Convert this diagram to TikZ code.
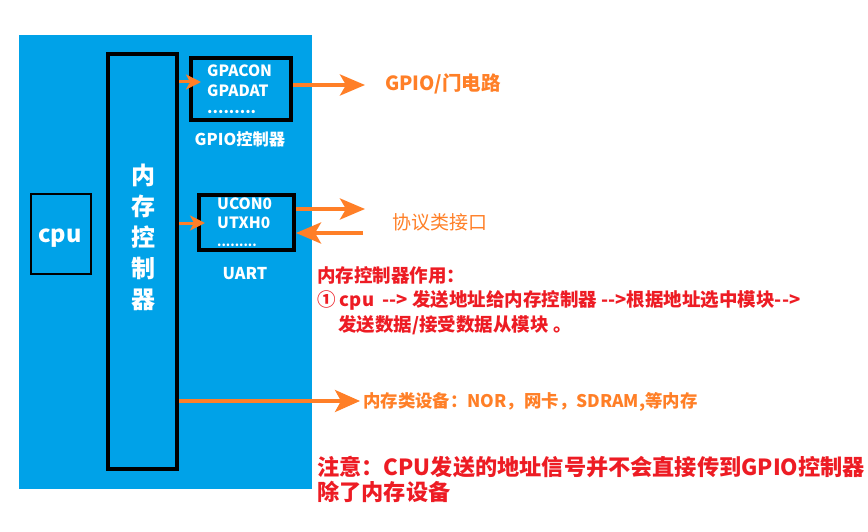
\documentclass[tikz,border=0pt]{standalone}
\usepackage{fontspec}
\setmainfont{Noto Sans CJK SC}
\usetikzlibrary{arrows.meta,positioning}
\definecolor{boardblue}{HTML}{00A2E8}
\definecolor{arrorange}{HTML}{FF7F27}
\definecolor{notered}{HTML}{ED1C24}

\begin{document}
\begin{tikzpicture}[x=1pt,y=-1pt,
    blk/.style={draw=black,line width=4pt,inner sep=0pt},
    reg/.style={text=white,font=\bfseries\fontsize{15.5}{16}\selectfont,inner sep=0pt,anchor=base west,text height=11pt,text depth=0pt},
    wlbl/.style={text=white,font=\bfseries\fontsize{16.3}{17}\selectfont,inner sep=0pt},
    olbl/.style={text=arrorange,font=\bfseries\fontsize{19.5}{20}\selectfont,inner sep=0pt,anchor=west},
    rlbl/.style={text=notered,font=\bfseries\fontsize{18.5}{19}\selectfont,inner sep=0pt,anchor=west},
    bigarr/.style={arrorange,line width=4pt,-{Stealth[length=25pt,width=21pt,inset=6pt]}},
    smallarr/.style={arrorange,line width=3pt,-{Stealth[length=15pt,width=15pt,inset=4pt]}}]
  \useasboundingbox (0,0) rectangle (868,532);
  % board
  \fill[boardblue] (19,35) rectangle (312,489);

  % cpu and memory controller
  \node[draw=black,line width=2pt,minimum width=60pt,minimum height=79pt] (cpu) at (60.5,234) {};
  \node[text=white,font=\bfseries\fontsize{23.5}{24}\selectfont] (cputxt) at (60,238) {cpu};
  \node[blk,minimum width=69pt,minimum height=415pt] (mc) at (142.5,261.5) {};
  \node[text=white,font=\bfseries\fontsize{24}{31}\selectfont,align=center,inner sep=0pt] (mctxt) at (143,237) {内\\存\\控\\制\\器};

  % GPIO controller
  \node[blk,minimum width=100pt,minimum height=62pt] (gpio) at (241,89) {};
  \node[reg] (gpacon) at (207,77) {GPACON};
  \node[reg] (gpadat) at (207,96.5) {GPADAT};
  \node[reg,text height=4pt] (gdots) at (207,114) {.........};
  \node[wlbl] (gpioname) at (240,139) {GPIO控制器};

  % UART
  \node[blk,minimum width=95pt,minimum height=55pt] (uart) at (246.5,222.5) {};
  \node[reg] (ucon) at (217,210) {UCON0};
  \node[reg] (utxh) at (217,228.5) {UTXH0};
  \node[reg,text height=4pt,font=\bfseries\fontsize{12.5}{13}\selectfont] (udots) at (217,246.5) {.........};
  \node[wlbl] (uartname) at (245,274) {UART};

  % outside labels
  \node[olbl] (gpioout) at (385,84) {GPIO/门电路};
  \node[olbl,font=\fontsize{19}{19}\selectfont] (proto) at (392,222) {协议类接口};
  \node[olbl,font=\bfseries\fontsize{17.4}{18}\selectfont] (memdev) at (363,402) {内存类设备：NOR，网卡，SDRAM,等内存};

  \node[rlbl] (role) at (317,275) {内存控制器作用：};
  \node[rlbl] (step1) at (317,300) {① cpu\ \ -{}-> 发送地址给内存控制器 -{}->根据地址选中模块-{}->};
  \node[rlbl] (step2) at (338,325) {发送数据/接受数据从模块 。};
  \node[rlbl,font=\bfseries\fontsize{22.2}{22}\selectfont] (note1) at (317,467) {注意：CPU发送的地址信号并不会直接传到GPIO控制器};
  \node[rlbl,font=\bfseries\fontsize{22.2}{22}\selectfont] (note2) at (317,492) {除了内存设备};

  % arrows
  \coordinate (gin) at (201,82);
  \coordinate (uin) at (205,223);
  \coordinate (gout) at (365,85);
  \coordinate (uout) at (365,209);
  \coordinate (uback) at (363,233);
  \coordinate (memin) at (360,401);
  \draw[smallarr] (mc.east |- gin) -- (gin);
  \draw[smallarr] (mc.east |- uin) -- (uin);
  \draw[bigarr] (gpio.east |- gout) -- (gout);
  \draw[bigarr] (uart.east |- uout) -- (uout);
  \draw[bigarr] (uback) -- (uart.east |- uback);
  \draw[arrorange,line width=3.5pt,-{Stealth[length=25pt,width=22pt,inset=6pt]}] (mc.east |- memin) -- (memin);
\end{tikzpicture}
\end{document}
